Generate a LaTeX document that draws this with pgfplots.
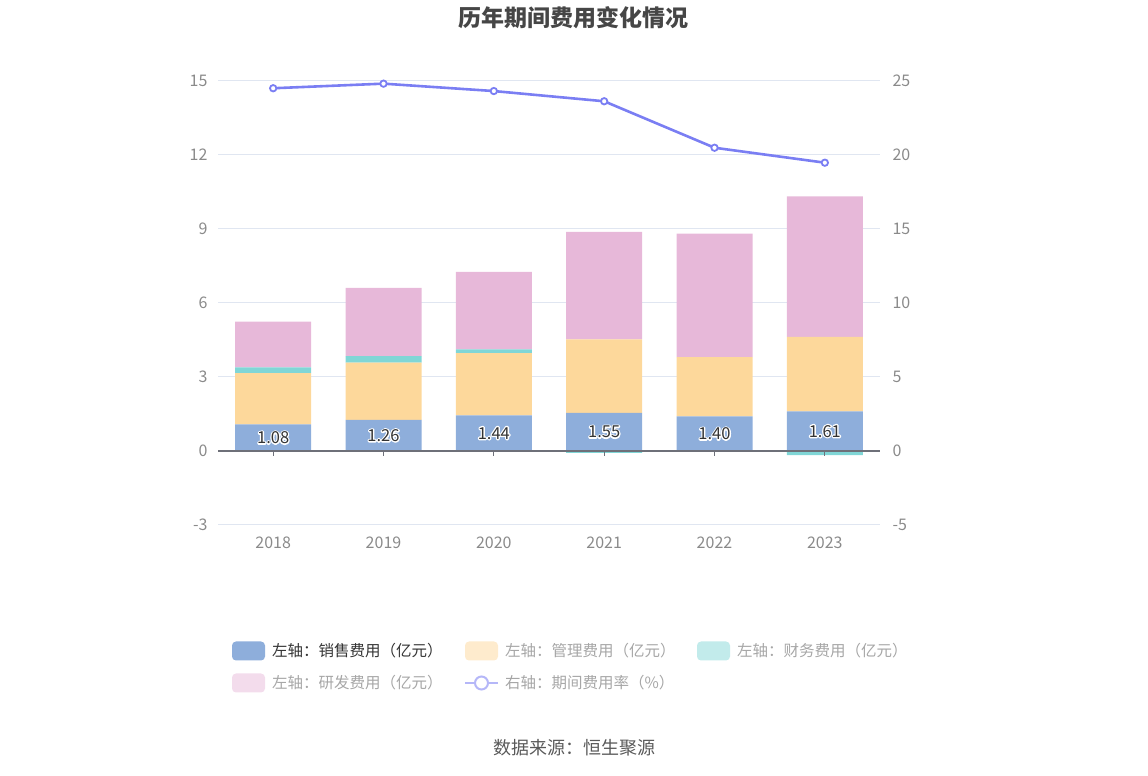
\documentclass[border=0pt]{standalone}
\usepackage{fontspec}
\setmainfont{Noto Sans CJK SC}
\usepackage{pgfplots}
\pgfplotsset{compat=1.18}
\definecolor{cSales}{HTML}{8EAEDB}
\definecolor{cMgmt}{HTML}{FDD89B}
\definecolor{cFin}{HTML}{80D6D6}
\definecolor{cRD}{HTML}{E7B8D9}
\definecolor{cLine}{HTML}{7A7EF3}
\definecolor{cSalesL}{HTML}{8EAEDB}
\definecolor{cMgmtL}{HTML}{FEEBCD}
\definecolor{cFinL}{HTML}{C2EBEB}
\definecolor{cRDL}{HTML}{F3DCEC}
\definecolor{cLineL}{HTML}{B5B7F8}
\definecolor{cGrid}{HTML}{E0E6F1}
\definecolor{cTick}{HTML}{8A8A8A}
\definecolor{cAxis}{HTML}{6E7079}
\definecolor{cTitle}{HTML}{464646}
\definecolor{cLeg}{HTML}{333333}
\definecolor{cLegG}{HTML}{A6A6A6}
\definecolor{cSrc}{HTML}{595959}
\definecolor{cLab}{HTML}{333333}

\newcommand{\halo}[1]{\rlap{\special{pdf:literal direct 1 1 1 RG 2.6 w 1 j 1 Tr}#1\special{pdf:literal direct 0 Tr}}#1}

\pgfplotsset{
  pos/.style={at={(218pt,251pt)}, anchor=south west, scale only axis,
    width=662pt, height=444pt, xmin=-0.5, xmax=5.5, clip=false},
}

\begin{document}
\begin{tikzpicture}[x=1pt,y=1pt]
\path[use as bounding box] (0,0) rectangle (1148,776);

% main stacked bars
\begin{axis}[pos,
  ymin=-3, ymax=15, ytick={-3,0,3,6,9,12,15},
  xtick={0,...,5}, xticklabels={2018,2019,2020,2021,2022,2023},
  ybar stacked, bar width=76pt,
  axis line style={draw=none}, major tick length=0pt,
  ymajorgrids, grid style={draw=cGrid, line width=1pt},
  tick label style={font=\fontsize{16}{18}\selectfont, text=cTick},
  /pgf/number format/assume math mode=true,
  xticklabel style={yshift=-8pt},
  yticklabel style={xshift=-7pt},
]
\addplot[fill=cSales, draw=none] coordinates {(0,1.08)(1,1.26)(2,1.44)(3,1.55)(4,1.40)(5,1.61)};
\addplot[fill=cMgmt, draw=none] coordinates {(0,2.08)(1,2.32)(2,2.53)(3,2.98)(4,2.41)(5,3.02)};
\addplot[fill=cFin, draw=none] coordinates {(0,0.23)(1,0.27)(2,0.15)(3,0)(4,0)(5,0)};
\addplot[fill=cRD, draw=none] coordinates {(0,1.85)(1,2.76)(2,3.14)(3,4.35)(4,5.00)(5,5.69)};
\end{axis}

% negative finance bars, zero line, labels
\begin{axis}[pos, hide axis, ymin=-3, ymax=15]
\addplot[ybar, bar width=76pt, bar shift=0pt, fill=cFin, draw=none] coordinates {(3,-0.08)(4,-0.02)(5,-0.17)};
\draw[cAxis, line width=1.2pt] (axis cs:-0.5,0) -- (axis cs:5.5,0);
\pgfplotsinvokeforeach{0,...,5}{\draw[cAxis, line width=1pt] (axis cs:#1,0) -- ([yshift=-5pt]axis cs:#1,0);}
\addplot[draw=none, mark=none, nodes near coords={\halo{\pgfplotspointmeta}},
  point meta=explicit symbolic,
  nodes near coords style={anchor=center, font=\fontsize{16.5}{18}\selectfont, text=cLab}]
  table[meta=label] {
x y label
0 0.54 1.08
1 0.63 1.26
2 0.72 1.44
3 0.775 1.55
4 0.70 1.40
5 0.805 1.61
};
\end{axis}

% right axis line
\begin{axis}[pos, ymin=-5, ymax=25, ytick={-5,0,5,10,15,20,25},
  axis y line*=right, axis x line=none, axis line style={draw=none},
  major tick length=0pt,
  tick label style={font=\fontsize{16}{18}\selectfont, text=cTick},
  /pgf/number format/assume math mode=true,
  yticklabel style={xshift=9pt},
]
\addplot[cLine, line width=2.6pt, mark=*, mark size=3.2pt,
  mark options={fill=white, draw=cLine, line width=1.8pt}]
  coordinates {(0,24.51)(1,24.82)(2,24.32)(3,23.63)(4,20.49)(5,19.48)};
\end{axis}

% title
\node[font=\fontsize{23}{26}\selectfont\bfseries, text=cTitle] at (573,758) {历年期间费用变化情况};

% legend
\begin{scope}[font=\fontsize{15.5}{18}\selectfont]
\fill[cSalesL, rounded corners=4pt] (232,115.5) rectangle (265,134.5);
\node[anchor=west, inner sep=0pt, text=cLeg] at (272,125) {左轴：销售费用（亿元）};
\fill[cMgmtL, rounded corners=4pt] (465,115.5) rectangle (498,134.5);
\node[anchor=west, inner sep=0pt, text=cLegG] at (505,125) {左轴：管理费用（亿元）};
\fill[cFinL, rounded corners=4pt] (697,115.5) rectangle (730,134.5);
\node[anchor=west, inner sep=0pt, text=cLegG] at (737,125) {左轴：财务费用（亿元）};
\fill[cRDL, rounded corners=4pt] (232,83.5) rectangle (265,102.5);
\node[anchor=west, inner sep=0pt, text=cLegG] at (272,93) {左轴：研发费用（亿元）};
\draw[cLineL, line width=2pt] (465,93) -- (498,93);
\draw[cLineL, line width=2pt, fill=white] (481.5,93) circle (6.5);
\node[anchor=west, inner sep=0pt, text=cLegG] at (505,93) {右轴：期间费用率（\%）};
\end{scope}

% source
\node[font=\fontsize{18}{20}\selectfont, text=cSrc] at (574,28) {数据来源：恒生聚源};
\end{tikzpicture}
\end{document}
